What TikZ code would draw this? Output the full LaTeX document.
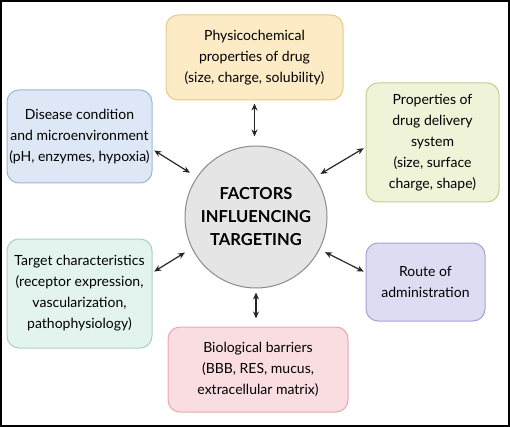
\documentclass[tikz,border=0pt]{standalone}
\usepackage{fontspec}
\setmainfont{Lato}
\usetikzlibrary{arrows.meta}
\definecolor{physfill}{HTML}{FCEBC5}\definecolor{physline}{HTML}{E5C98E}
\definecolor{disfill}{HTML}{DDE7F6}\definecolor{disline}{HTML}{9FB5D8}
\definecolor{ddsfill}{HTML}{EFF3D8}\definecolor{ddsline}{HTML}{C4CF8F}
\definecolor{tarfill}{HTML}{E3F4EF}\definecolor{tarline}{HTML}{A5D3C3}
\definecolor{routefill}{HTML}{DEDCF2}\definecolor{routeline}{HTML}{A6A2D6}
\definecolor{biofill}{HTML}{FADDE1}\definecolor{bioline}{HTML}{E6A9B1}
\begin{document}
\begin{tikzpicture}
			[x=1pt, y=-1pt,
			factor/.style = {draw, rounded corners=12pt, line width=1pt, align=center,
				inner sep=0pt, text=black, font=\fontsize{14}{21}\selectfont},
			hub/.style = {circle, draw=black!45, line width=1pt, fill=black!10,
				minimum size=142pt, align=center, inner sep=0pt,
				font=\fontsize{16.5}{23}\selectfont\bfseries},
			link/.style = {{Stealth[length=7pt,width=6pt]}-{Stealth[length=7pt,width=6pt]},
				line width=1.2pt, black!85, shorten <=2pt, shorten >=8pt}]
			\useasboundingbox (0,0) rectangle (510,427);
			\draw[line width=1.6pt] (1,1) rectangle (509,426);
			\node[hub] (hub) at (256,217) {FACTORS\\INFLUENCING\\TARGETING};
			\node[factor, fill=physfill, draw=physline, minimum width=177pt, minimum height=85pt]
				(phys) at (254.5,57.5) {Physicochemical\\properties of drug\\(size, charge, solubility)};
			\node[factor, fill=disfill, draw=disline, minimum width=145pt, minimum height=93pt]
				(disease) at (79.5,136.5) {Disease condition\\and microenvironment\\(pH, enzymes, hypoxia)};
			\node[factor, fill=ddsfill, draw=ddsline, minimum width=133pt, minimum height=119pt]
				(dds) at (432.5,142.5) {Properties of\\drug delivery\\system\\(size, surface\\charge, shape)};
			\node[factor, fill=tarfill, draw=tarline, minimum width=145pt, minimum height=109pt]
				(target) at (79.5,293.5) {Target characteristics\\(receptor expression,\\vascularization,\\pathophysiology)};
			\node[factor, fill=routefill, draw=routeline, minimum width=119pt, minimum height=78pt]
				(route) at (425.5,282) {Route of\\administration};
			\node[factor, fill=biofill, draw=bioline, minimum width=180pt, minimum height=85pt]
				(bio) at (258,369.5) {Biological barriers\\(BBB, RES, mucus,\\extracellular matrix)};
			% arrows to the hub
			\draw[link, shorten <=3pt, shorten >=9pt] (phys.south) -- (phys.south |- hub.north);
			\draw[link, shorten <=4pt] (hub.south) -- (hub.south |- bio.north);
			\draw[link] (disease.-10) -- (hub.146);
			\draw[link] (target.16) -- (hub.206);
			\draw[link, shorten >=6pt] (dds.184) -- (hub.34);
			\draw[link, shorten >=6pt] (route.171) -- (hub.-27);
\end{tikzpicture}
\end{document}
